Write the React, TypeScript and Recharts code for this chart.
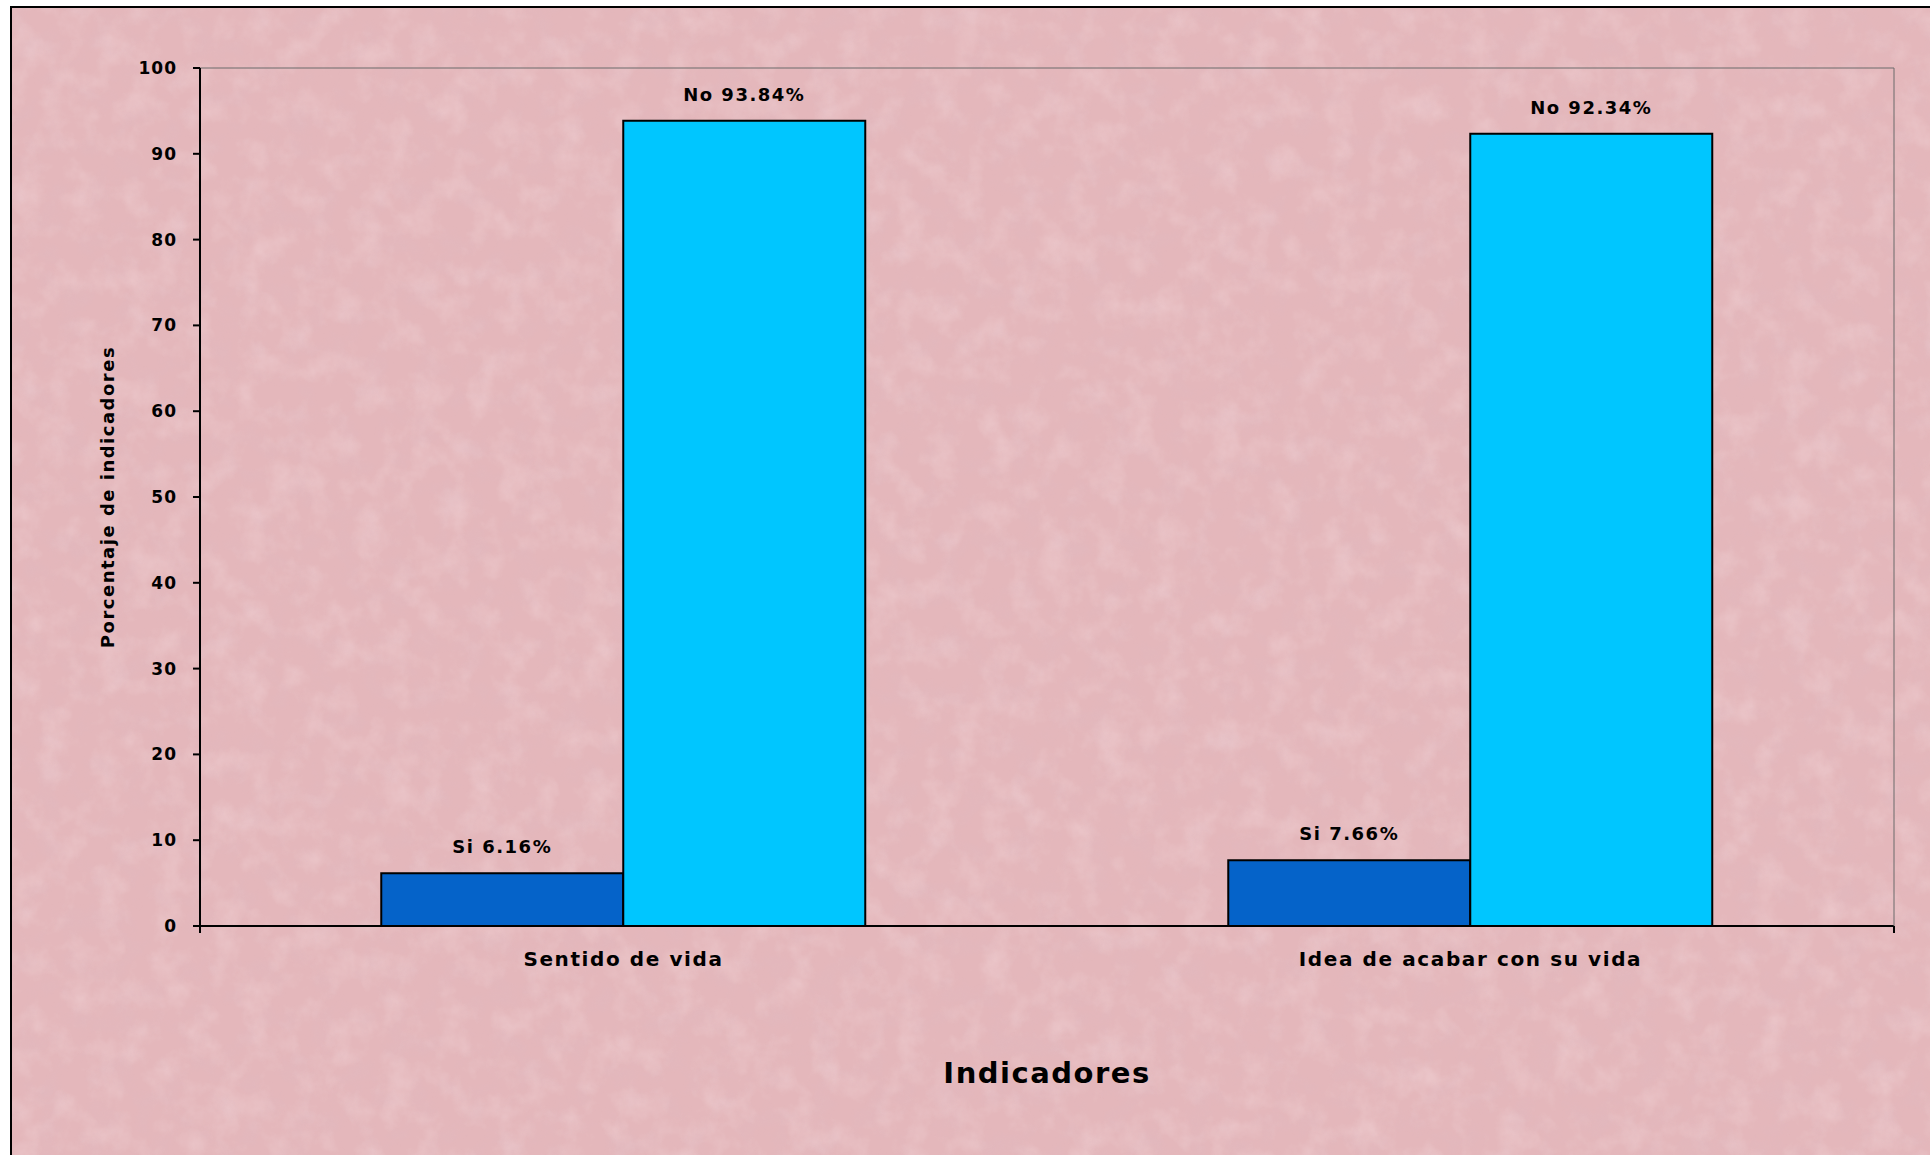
import { Bar, BarChart, Label, LabelList, ReferenceLine, XAxis, YAxis } from 'recharts';

const categories = ['Sentido de vida', 'Idea de acabar con su vida'];
const siValues = [6.16, 7.66];
const noValues = [93.84, 92.34];
const yTicks = [0, 10, 20, 30, 40, 50, 60, 70, 80, 90, 100];

const FONT = '"DejaVu Sans", Verdana, sans-serif';

const chartData = categories.map((name, i) => ({
  name,
  si: siValues[i],
  no: noValues[i],
}));

const tickStyle = { fontFamily: FONT, fontSize: 17, fontWeight: 700, fill: '#000', letterSpacing: 1 };
const catStyle = { fontFamily: FONT, fontSize: 20, fontWeight: 700, fill: '#000', letterSpacing: 1.6 };
const valueStyle = { fontFamily: FONT, fontSize: 18, fontWeight: 700, fill: '#000', letterSpacing: 1.5 };

function Texture() {
  return (
    <svg width={1919} height={1148} style={{ position: 'absolute', left: 0, top: 0 }}>
      <defs>
        <filter id="light" x="0" y="0" width="100%" height="100%">
          <feTurbulence type="fractalNoise" baseFrequency="0.035" numOctaves={4} seed={3} />
          <feColorMatrix type="matrix" values="0 0 0 0 1  0 0 0 0 0.88  0 0 0 0 0.9  1.4 0 0 0 -0.62" />
        </filter>
        <filter id="dark" x="0" y="0" width="100%" height="100%">
          <feTurbulence type="fractalNoise" baseFrequency="0.04" numOctaves={4} seed={11} />
          <feColorMatrix type="matrix" values="0 0 0 0 0.72  0 0 0 0 0.5  0 0 0 0 0.56  1.4 0 0 0 -0.62" />
        </filter>
      </defs>
      <rect width="100%" height="100%" fill="#e4b7bb" />
      <rect width="100%" height="100%" filter="url(#light)" opacity={0.35} />
      <rect width="100%" height="100%" filter="url(#dark)" opacity={0.35} />
    </svg>
  );
}

export default function App() {
  return (
    <div style={{ position: 'absolute', left: 0, top: 0, width: 1930, height: 1155, background: '#fff', overflow: 'hidden' }}>
      <div
        style={{
          position: 'absolute',
          left: 10,
          top: 6,
          width: 1920,
          height: 1149,
          borderLeft: '2px solid #000',
          borderTop: '2px solid #000',
          boxSizing: 'border-box',
        }}
      >
        <Texture />
      </div>
      <div style={{ position: 'absolute', left: 0, top: 0 }}>
        <BarChart
          width={1930}
          height={1155}
          data={chartData}
          margin={{ top: 68, right: 35, left: 100, bottom: 68 }}
          barCategoryGap="21.4%"
          barGap={0}
        >
          <XAxis
            xAxisId="a"
            type="number"
            domain={[0, 2]}
            ticks={[0, 1, 2]}
            tickSize={7}
            tickFormatter={() => ''}
            stroke="#000"
            strokeWidth={2}
            height={1}
          />
          <XAxis
            xAxisId="b"
            dataKey="name"
            axisLine={false}
            tickLine={false}
            tickSize={0}
            tickMargin={25}
            height={160}
            tick={catStyle}
          >
            <Label
              value="Indicadores"
              position="insideBottom"
              offset={4}
              style={{ fontFamily: FONT, fontSize: 29, fontWeight: 700, fill: '#000', letterSpacing: 1.5 }}
            />
          </XAxis>
          <YAxis
            domain={[0, 100]}
            ticks={yTicks}
            interval={0}
            width={100}
            tickSize={7}
            tickMargin={16}
            stroke="#000"
            strokeWidth={2}
            tick={tickStyle}
          >
            <Label
              value="Porcentaje de indicadores"
              angle={-90}
              position="insideLeft"
              offset={8}
              style={{ fontFamily: FONT, fontSize: 18, fontWeight: 700, fill: '#000', letterSpacing: 1.5, textAnchor: 'middle' }}
            />
          </YAxis>
          <YAxis
            yAxisId="right"
            orientation="right"
            width={1}
            tick={false}
            tickLine={false}
            axisLine={{ stroke: '#6b6b6b', strokeWidth: 1 }}
            domain={[0, 100]}
          />
          <ReferenceLine y={100} xAxisId="b" stroke="#6b6b6b" strokeWidth={1} />
          <Bar xAxisId="b" dataKey="si" fill="#0563c9" stroke="#000" strokeWidth={2} isAnimationActive={false}>
            <LabelList dataKey="si" position="top" offset={20} formatter={(v: number) => `Si ${v}%`} style={valueStyle} />
          </Bar>
          <Bar xAxisId="b" dataKey="no" fill="#00c6ff" stroke="#000" strokeWidth={2} isAnimationActive={false}>
            <LabelList dataKey="no" position="top" offset={20} formatter={(v: number) => `No ${v}%`} style={valueStyle} />
          </Bar>
        </BarChart>
      </div>
    </div>
  );
}
